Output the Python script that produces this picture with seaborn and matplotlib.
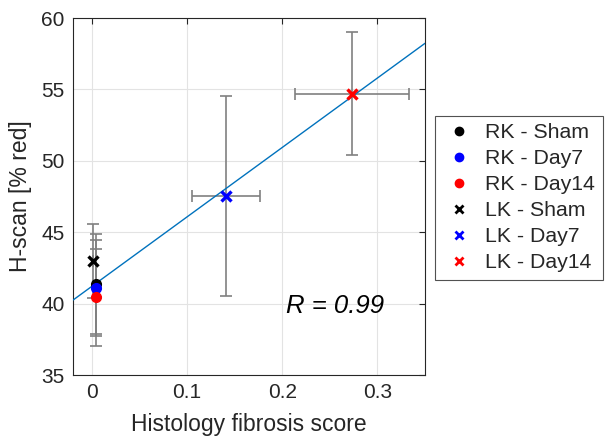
import numpy as np
import pandas as pd
import matplotlib
matplotlib.use("Agg")
import matplotlib.pyplot as plt
import seaborn as sns
from matplotlib.lines import Line2D

# ---- data ----
labels = ["RK - Sham", "RK - Day7", "RK - Day14", "LK - Sham", "LK - Day7", "LK - Day14"]
kidney = ["RK", "RK", "RK", "LK", "LK", "LK"]
group = ["Sham", "Day7", "Day14", "Sham", "Day7", "Day14"]
fibrosis = [0.004, 0.004, 0.004, 0.001, 0.141, 0.273]
hscan = [41.35, 41.1, 40.44, 43.0, 47.53, 54.7]
hscan_err = [3.5, 3.35, 3.4, 2.6, 7.0, 4.3]
fibrosis_err = [0.0, 0.0, 0.0, 0.0, 0.036, 0.06]
fit_slope = 48.6
fit_intercept = 41.22
r_value = 0.99

colors = {"Sham": "#000000", "Day7": "#0000FF", "Day14": "#FF0000"}

df = pd.DataFrame({"label": labels, "kidney": kidney, "group": group,
                   "x": fibrosis, "y": hscan, "yerr": hscan_err, "xerr": fibrosis_err})

sns.set_style("white")
plt.rcParams["font.family"] = ["Liberation Sans", "DejaVu Sans"]

fig = plt.figure(figsize=(6.05, 4.4), dpi=100)
ax = fig.add_axes([0.1207, 0.1477, 0.5818, 0.8113])

# error bars
ax.errorbar(df["x"], df["y"], yerr=df["yerr"], xerr=df["xerr"], fmt="none",
            ecolor="#808080", elinewidth=1.2, capsize=4, capthick=1.2, zorder=2)

# fit line
xlim = (-0.02, 0.35)
fx = np.array(xlim)
fit_df = pd.DataFrame({"x": fx, "y": fit_intercept + fit_slope * fx})
sns.lineplot(data=fit_df, x="x", y="y", ax=ax, color="#0072BD", linewidth=1.0, zorder=3)

# points
for _, r in df.iterrows():
    if r["kidney"] == "RK":
        ax.plot(r["x"], r["y"], marker="o", color=colors[r["group"]], markersize=7,
                linestyle="none", zorder=4)
    else:
        ax.plot(r["x"], r["y"], marker="x", color=colors[r["group"]], markersize=7.5,
                markeredgewidth=2.4, linestyle="none", zorder=4)

ax.set_xlim(*xlim)
ax.set_ylim(35, 60)
ax.set_xticks([0, 0.1, 0.2, 0.3])
ax.set_xticklabels(["0", "0.1", "0.2", "0.3"])
ax.set_yticks([35, 40, 45, 50, 55, 60])
ax.grid(True, color="#e3e3e3", linewidth=0.8)
ax.set_axisbelow(True)
for s in ax.spines.values():
    s.set_color("#262626")
    s.set_linewidth(0.8)
ax.tick_params(axis="both", direction="in", length=4, width=0.8, color="#262626",
               labelsize=15, labelcolor="#262626", pad=6, top=True, right=True)
ax.set_xlabel("Histology fibrosis score", fontsize=16.5, color="#262626", labelpad=8)
ax.set_ylabel("H-scan [% red]", fontsize=16.5, color="#262626", labelpad=7)

ax.text(0.2036, 39.34, f"R = {r_value:.2f}", fontsize=18.5, style="italic",
        color="#000000", ha="left", va="baseline")

# legend
handles = []
for k, g, lab in zip(kidney, group, labels):
    if k == "RK":
        h = Line2D([], [], marker="o", color=colors[g], linestyle="none", markersize=6)
    else:
        h = Line2D([], [], marker="x", color=colors[g], linestyle="none", markersize=6,
                   markeredgewidth=2)
    handles.append(h)
leg = fig.legend(handles, labels, loc="upper left", bbox_to_anchor=(0.719, 0.737),
                 fontsize=15.3, frameon=True, fancybox=False, edgecolor="#262626",
                 handlelength=1.6, handletextpad=0.42, labelspacing=0.33,
                 borderpad=0.35, borderaxespad=0)
leg.get_frame().set_linewidth(0.8)

fig.savefig("out.png", dpi=100)
